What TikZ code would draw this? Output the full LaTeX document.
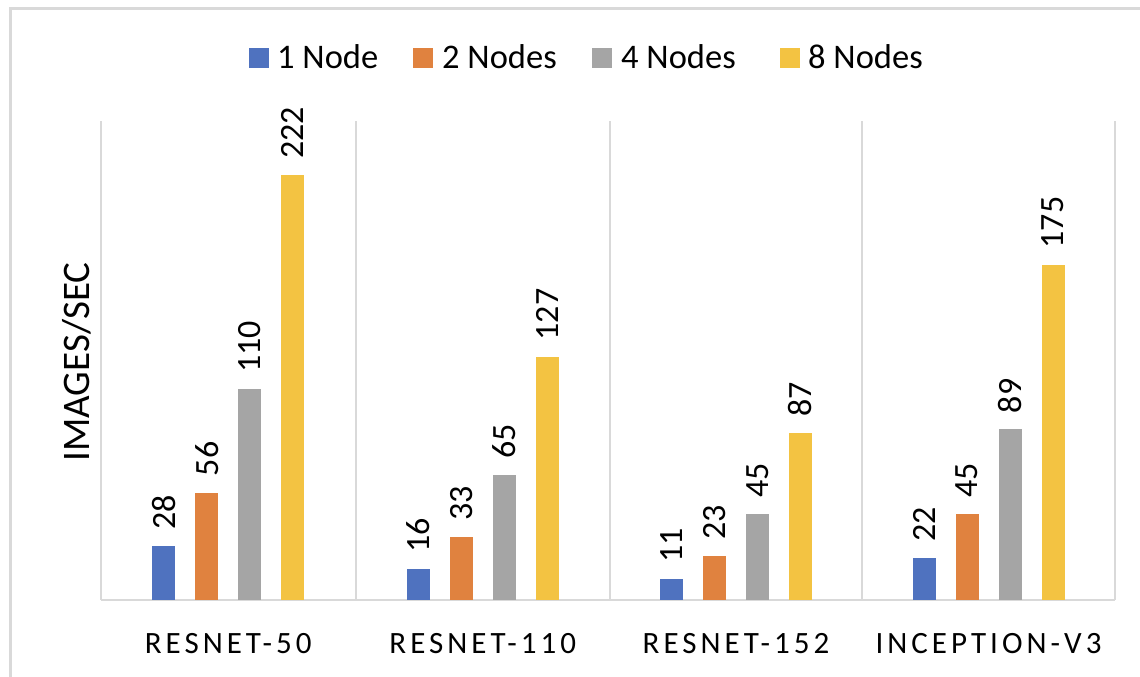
\documentclass[tikz,border=0pt]{standalone}
\usepackage{fontspec}
\setmainfont{Carlito}
\definecolor{cOne}{HTML}{4F72BF}
\definecolor{cTwo}{HTML}{E0823F}
\definecolor{cFour}{HTML}{A5A5A5}
\definecolor{cEight}{HTML}{F3C342}
\definecolor{gridc}{HTML}{D9D9D9}
\tikzset{
  bar/.style={inner sep=0pt, minimum width=23pt, anchor=south},
  vlabel/.style={rotate=90, anchor=west, inner sep=0pt, font=\fontsize{34}{34}\selectfont},
  catlabel/.style={anchor=base, inner sep=0pt, font=\fontsize{31}{31}\selectfont\addfontfeature{LetterSpace=13}},
  legtext/.style={anchor=base west, inner sep=0pt, font=\fontsize{34.5}{34.5}\selectfont},
  legkey/.style={inner sep=0pt, minimum size=19.5pt, anchor=south west},
  gridline/.style={draw=gridc, line width=2pt},
}
\begin{document}
\begin{tikzpicture}[x=1pt, y=-1pt]
\useasboundingbox (0,0) rectangle (1140,677);
% chart frame
\draw[draw=gridc, line width=3pt] (10,677) -- (10,8.5) -- (1145,8.5);

% category separators and baseline
\foreach \sx [count=\i] in {101,355.5,610,862,1115}
  \coordinate (s\i) at (\sx,121);
\foreach \i in {1,...,5}
  \draw[gridline] (s\i) -- (s\i |- 0,600);
\coordinate (b0) at (101,600);
\coordinate (b1) at (1115,600);
\draw[gridline] (b0) -- (b1);

% legend
\node[legkey, fill=cOne] (k1) at (249,68) {};
\node[legtext] (t1) at (277,68) {1 Node};
\node[legkey, fill=cTwo] (k2) at (413,68) {};
\node[legtext] (t2) at (442,68) {2 Nodes};
\node[legkey, fill=cFour] (k3) at (592,68) {};
\node[legtext] (t3) at (621,68) {4 Nodes};
\node[legkey, fill=cEight] (k4) at (780,68) {};
\node[legtext] (t4) at (808,68) {8 Nodes};

% axis title
\node[rotate=90, inner sep=0pt, font=\fontsize{39}{39}\selectfont] (ytitle) at (77,362) {IMAGES/SEC};

% bars: group centre, name, four values
\foreach \gc/\gname/\va/\vb/\vc/\vd [count=\g] in
   {228.25/RESNET-50/28/56/110/222,
    482.75/RESNET-110/16/33/65/127,
    736/RESNET-152/11/23/45/87,
    988.5/INCEPTION-V3/22/45/89/175}{
  \foreach \off/\val/\col [count=\k] in {-64.5/\va/cOne, -21.5/\vb/cTwo, 21.5/\vc/cFour, 64.5/\vd/cEight}{
    \pgfmathsetmacro{\hh}{\val*1.914}
    \node[bar, fill=\col, minimum height=\hh pt] (bar\g\k) at (\gc+\off,600) {};
    \node[vlabel] (val\g\k) at ([yshift=16pt]bar\g\k.north) {\val};
  }
  \node[catlabel] (cat\g) at (\gc,653) {\gname};
}
\end{tikzpicture}
\end{document}
